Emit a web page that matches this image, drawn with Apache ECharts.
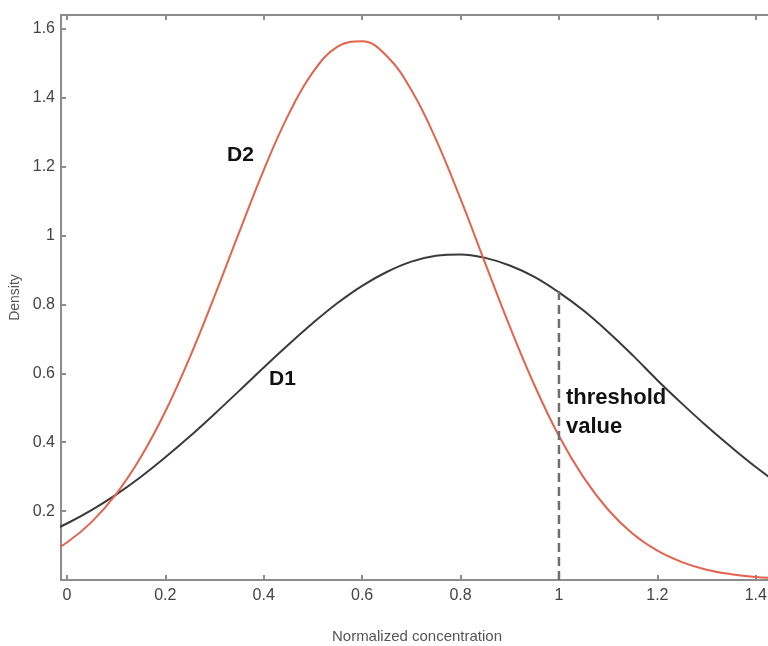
<!DOCTYPE html>
<html>
<head>
<meta charset="utf-8">
<script src="https://cdn.jsdelivr.net/npm/echarts@6/dist/echarts.min.js"></script>
<style>
  html, body { margin: 0; padding: 0; background: #fff; }
  #chart { width: 768px; height: 646px; }
</style>
</head>
<body>
<div id="chart"></div>
<script>
// values
var xs = [-0.05, 0, 0.05, 0.1, 0.15, 0.2, 0.25, 0.3, 0.35, 0.4, 0.45, 0.5, 0.55, 0.6, 0.65, 0.7,
  0.75, 0.8, 0.85, 0.9, 0.95, 1.0, 1.05, 1.1, 1.15, 1.2, 1.25, 1.3, 1.35, 1.4, 1.45]
var d1 = [0.130, 0.164, 0.203, 0.248, 0.299, 0.356, 0.417, 0.482, 0.549, 0.617, 0.683, 0.746, 0.804, 0.854, 0.894, 0.924,
  0.941, 0.945, 0.935, 0.913, 0.880, 0.835, 0.782, 0.720, 0.652, 0.580, 0.512, 0.447, 0.386, 0.328, 0.275]
var d2 = [0.068, 0.109, 0.168, 0.249, 0.356, 0.489, 0.647, 0.824, 1.009, 1.190, 1.350, 1.474, 1.548, 1.564, 1.521, 1.422,
  1.279, 1.106, 0.920, 0.736, 0.566, 0.418, 0.298, 0.204, 0.134, 0.085, 0.052, 0.030, 0.017, 0.009, 0.005]
var xTicks = [0, 0.2, 0.4, 0.6, 0.8, 1, 1.2, 1.4]
var threshold = [[1, 0], [1, 0.84]]

var axisGray = '#8c8c8c'
var labelFont = 'Liberation Sans, Arial, sans-serif'

function pairs(ys) {
  return xs.map(function (x, i) { return [x, ys[i]] })
}

var chart = echarts.init(document.getElementById('chart'))
chart.setOption({
  animation: false,
  // right edge of the plot runs off the picture, as in the original
  grid: { left: 61, top: 15, right: -5, bottom: 66, outerBoundsMode: 'none', containLabel: false },
  xAxis: [
    {
      type: 'value',
      min: -0.012,
      max: 1.435,
      name: 'Normalized concentration',
      nameLocation: 'middle',
      nameGap: 49,
      nameTextStyle: { color: '#555', fontSize: 15, fontFamily: labelFont },
      axisLine: { show: true, onZero: false, lineStyle: { color: axisGray, width: 2 } },
      axisTick: { show: true, inside: true, length: 5, customValues: xTicks, lineStyle: { color: axisGray, width: 2 } },
      axisLabel: { customValues: xTicks, color: '#444', fontSize: 16, margin: 8, fontFamily: labelFont },
      splitLine: { show: false }
    },
    {
      type: 'value',
      position: 'top',
      min: -0.012,
      max: 1.435,
      axisLine: { show: true, onZero: false, lineStyle: { color: axisGray, width: 2 } },
      axisTick: { show: true, inside: true, length: 5, customValues: xTicks, lineStyle: { color: axisGray, width: 2 } },
      axisLabel: { show: false },
      splitLine: { show: false }
    }
  ],
  yAxis: {
    type: 'value',
    min: 0,
    max: 1.64,
    interval: 0.2,
    name: 'Density',
    nameLocation: 'middle',
    nameRotate: 90,
    nameGap: 36,
    nameTextStyle: { color: '#555', fontSize: 14, fontFamily: labelFont },
    axisLine: { show: true, onZero: false, lineStyle: { color: axisGray, width: 2 } },
    axisTick: { show: true, inside: true, length: 5, lineStyle: { color: axisGray, width: 2 } },
    axisLabel: { showMinLabel: false, showMaxLabel: false, color: '#444', fontSize: 16, margin: 6, fontFamily: labelFont },
    splitLine: { show: false }
  },
  series: [
    {
      name: 'D1',
      type: 'line',
      smooth: 0.4,
      symbol: 'none',
      lineStyle: { color: '#3a3a3a', width: 2 },
      data: pairs(d1)
    },
    {
      name: 'D2',
      type: 'line',
      smooth: 0.4,
      symbol: 'none',
      lineStyle: { color: '#e4634c', width: 2 },
      data: pairs(d2)
    },
    {
      name: 'threshold',
      type: 'line',
      symbol: 'none',
      lineStyle: { color: '#6e6e6e', width: 2.5, type: [9, 5] },
      data: threshold
    }
  ],
  graphic: [
    { type: 'text', left: 227, top: 145, style: { text: 'D2', fill: '#111', font: 'bold 21px ' + labelFont } },
    { type: 'text', left: 269, top: 369, style: { text: 'D1', fill: '#111', font: 'bold 21px ' + labelFont } },
    { type: 'text', left: 566, top: 387, style: { text: 'threshold', fill: '#111', font: 'bold 22px ' + labelFont } },
    { type: 'text', left: 566, top: 416, style: { text: 'value', fill: '#111', font: 'bold 22px ' + labelFont } }
  ]
})
</script>
</body>
</html>
